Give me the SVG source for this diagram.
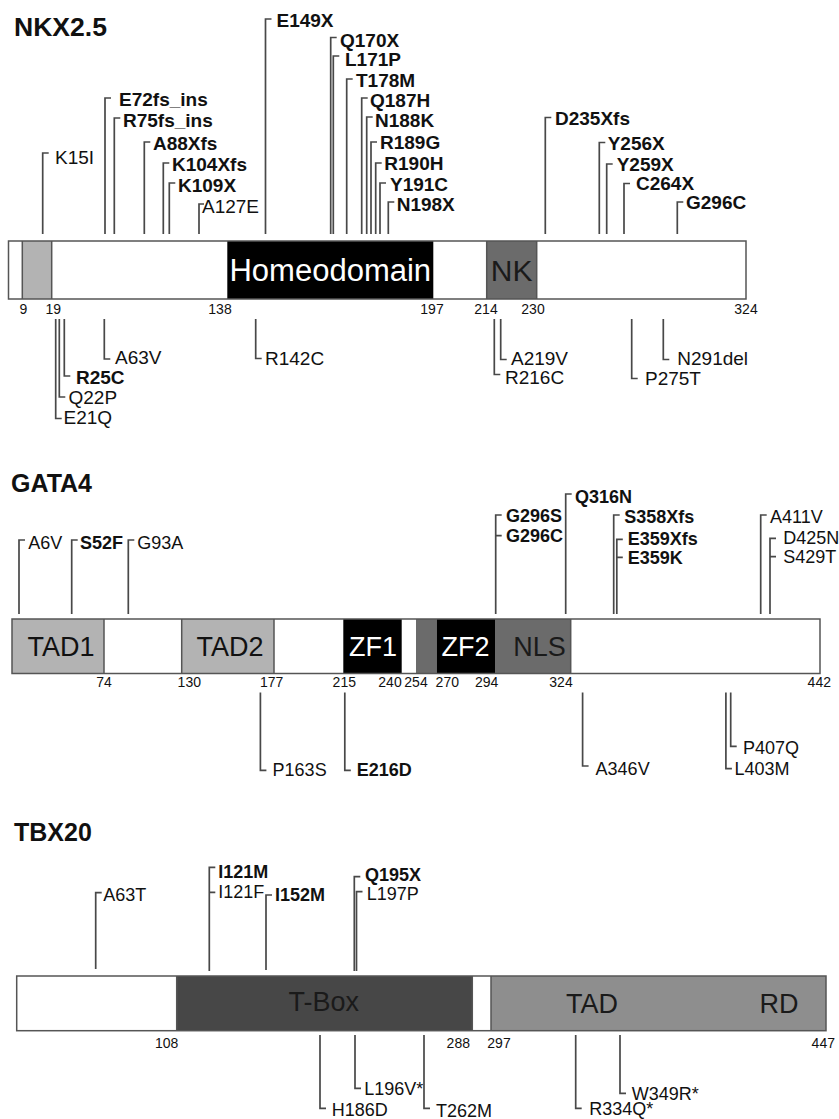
<svg xmlns="http://www.w3.org/2000/svg" width="839" height="1119" viewBox="0 0 839 1119">
<style>
.bg{fill:#fff}
.bar{stroke:#555;stroke-width:1.5}
.wh{fill:#fff}
.lg{fill:#b3b3b3}
.mg{fill:#6b6b6b}
.dg{fill:#474747}
.tg{fill:#8e8e8e}
.bk{fill:#000}
.ld{fill:none;stroke:#484848;stroke-width:1.7}
.t{font-family:"Liberation Sans",Arial,sans-serif;fill:#111}
.ti{font-size:25px;font-weight:bold}
.lb{font-size:19px}
.lb2{font-size:18px}
.b{font-weight:bold}
.n{font-size:14px;text-anchor:middle}
.dm{font-size:27px;text-anchor:middle}
.dw{fill:#fff}
</style>
<rect class="bg" x="0" y="0" width="839" height="1119"/>

<!-- ================= NKX2.5 ================= -->
<g id="nkx25">
  <text class="t ti" x="14" y="36" textLength="93" lengthAdjust="spacingAndGlyphs">NKX2.5</text>
  <g id="nkx25-bar">
    <rect class="wh" x="8.5" y="241" width="737.5" height="58"/>
    <rect class="lg" x="22.3" y="241" width="29.4" height="58"/>
    <rect class="bk" x="227.3" y="241" width="206" height="58"/>
    <rect class="mg" x="486.7" y="241" width="50" height="58"/>
    <rect class="bar" fill="none" x="8.5" y="241" width="737.5" height="58"/>
    <path class="bar" fill="none" d="M22.3,241V299M51.7,241V299M486.7,241V299M536.7,241V299"/>
    <text class="t dm dw" style="font-size:31px" x="330.3" y="281">Homeodomain</text>
    <text class="t dm" style="font-size:30px;fill:#1a1a1a" x="511.7" y="281">NK</text>
  </g>
  <g id="nkx25-numbers" class="t n">
    <text x="23.3" y="314">9</text>
    <text x="53.3" y="314">19</text>
    <text x="220" y="314">138</text>
    <text x="432" y="314">197</text>
    <text x="486" y="314">214</text>
    <text x="533" y="314">230</text>
    <text x="746" y="314">324</text>
  </g>
  <g id="nkx25-labels" class="t lb">
    <text x="55" y="164">K15I</text>
    <text class="b" x="119" y="106">E72fs_ins</text>
    <text class="b" x="123" y="127">R75fs_ins</text>
    <text class="b" x="153" y="149.5">A88Xfs</text>
    <text class="b" x="172" y="171">K104Xfs</text>
    <text class="b" x="178" y="191.5">K109X</text>
    <text x="202" y="213">A127E</text>
    <text class="b" x="276.5" y="26.5">E149X</text>
    <text class="b" x="340" y="46.5">Q170X</text>
    <text class="b" x="345" y="65.5">L171P</text>
    <text class="b" x="356" y="86.5">T178M</text>
    <text class="b" x="370" y="106.5">Q187H</text>
    <text class="b" x="375" y="127">N188K</text>
    <text class="b" x="380" y="149">R189G</text>
    <text class="b" x="384.3" y="170">R190H</text>
    <text class="b" x="390" y="191">Y191C</text>
    <text class="b" x="396.7" y="211">N198X</text>
    <text class="b" x="555" y="125">D235Xfs</text>
    <text class="b" x="607.7" y="149.5">Y256X</text>
    <text class="b" x="616.7" y="171">Y259X</text>
    <text class="b" x="636" y="190">C264X</text>
    <text class="b" x="686" y="208.5">G296C</text>
    <text x="63.5" y="423.5">E21Q</text>
    <text x="68.5" y="403.5">Q22P</text>
    <text class="b" x="76" y="383.5">R25C</text>
    <text x="115" y="364">A63V</text>
    <text x="265" y="365">R142C</text>
    <text x="505" y="384">R216C</text>
    <text x="511" y="365">A219V</text>
    <text x="645" y="385">P275T</text>
    <text x="677.3" y="365">N291del</text>
  </g>
</g>

<!-- ================= GATA4 ================= -->
<g id="gata4">
  <text class="t ti" x="11" y="492">GATA4</text>
  <g id="gata4-bar">
    <rect class="wh" x="12" y="619" width="808" height="54.5"/>
    <rect class="lg" x="12" y="619" width="92" height="54.5"/>
    <rect class="lg" x="181.7" y="619" width="92.3" height="54.5"/>
    <rect class="bk" x="343.3" y="619" width="58.4" height="54.5"/>
    <rect class="mg" x="416" y="619" width="20.7" height="54.5"/>
    <rect class="bk" x="436.7" y="619" width="58.3" height="54.5"/>
    <rect class="mg" x="495" y="619" width="75.7" height="54.5"/>
    <rect class="bar" fill="none" x="12" y="619" width="808" height="54.5"/>
    <path class="bar" fill="none" d="M104,619V673.5M181.7,619V673.5M274,619V673.5M570.7,619V673.5"/>
    <text class="t dm" x="61" y="656">TAD1</text>
    <text class="t dm" x="230" y="656">TAD2</text>
    <text class="t dm dw" x="373" y="656">ZF1</text>
    <text class="t dm dw" x="465.5" y="656">ZF2</text>
    <text class="t dm" style="fill:#1a1a1a" x="539.5" y="656">NLS</text>
  </g>
  <g id="gata4-numbers" class="t n">
    <text x="104" y="687">74</text>
    <text x="189.3" y="687">130</text>
    <text x="271.7" y="687">177</text>
    <text x="344.3" y="687">215</text>
    <text x="390" y="687">240</text>
    <text x="416" y="687">254</text>
    <text x="447.3" y="687">270</text>
    <text x="486.7" y="687">294</text>
    <text x="561" y="687">324</text>
    <text x="819.3" y="687">442</text>
  </g>
  <g id="gata4-labels" class="t lb2">
    <text x="28.3" y="548.5">A6V</text>
    <text class="b" x="80" y="548.5">S52F</text>
    <text x="137.3" y="548.5">G93A</text>
    <text class="b" x="506" y="522">G296S</text>
    <text class="b" x="506" y="542">G296C</text>
    <text class="b" x="575" y="503">Q316N</text>
    <text class="b" x="624.3" y="522.5">S358Xfs</text>
    <text class="b" x="627.7" y="545">E359Xfs</text>
    <text class="b" x="627.7" y="564">E359K</text>
    <text x="770" y="522.5">A411V</text>
    <text x="783.3" y="543.5">D425N</text>
    <text x="783.3" y="563">S429T</text>
    <text x="272.6" y="776">P163S</text>
    <text class="b" x="356.7" y="776">E216D</text>
    <text x="595.6" y="775">A346V</text>
    <text x="743" y="754">P407Q</text>
    <text x="734.4" y="775">L403M</text>
  </g>
</g>

<!-- ================= TBX20 ================= -->
<g id="tbx20">
  <text class="t ti" x="14" y="841">TBX20</text>
  <g id="tbx20-bar">
    <rect class="wh" x="16.7" y="976" width="809.3" height="54.7"/>
    <rect class="dg" x="176.7" y="976" width="295.6" height="54.7"/>
    <rect class="tg" x="491" y="976" width="335" height="54.7"/>
    <rect class="bar" fill="none" x="16.7" y="976" width="809.3" height="54.7"/>
    <path class="bar" fill="none" d="M176.7,976V1030.7M472.3,976V1030.7M491,976V1030.7"/>
    <text class="t dm" style="fill:#1a1a1a" x="323.7" y="1011">T-Box</text>
    <text class="t dm" style="fill:#1a1a1a" x="592" y="1013">TAD</text>
    <text class="t dm" style="fill:#1a1a1a" x="779" y="1013">RD</text>
  </g>
  <g id="tbx20-numbers" class="t n">
    <text x="166.7" y="1047.5">108</text>
    <text x="458.3" y="1047.5">288</text>
    <text x="499" y="1047.5">297</text>
    <text x="823.3" y="1047.5">447</text>
  </g>
  <g id="tbx20-labels" class="t lb2">
    <text x="103.3" y="901">A63T</text>
    <text class="b" x="218.3" y="877.5">I121M</text>
    <text x="218.3" y="897.5">I121F</text>
    <text class="b" x="275" y="901">I152M</text>
    <text class="b" x="365" y="881">Q195X</text>
    <text x="366.7" y="900">L197P</text>
    <text x="331.7" y="1116">H186D</text>
    <text x="364.3" y="1094.5">L196V*</text>
    <text x="436" y="1117">T262M</text>
    <text x="589.3" y="1115">R334Q*</text>
    <text x="631.7" y="1100">W349R*</text>
  </g>
</g>

<!-- ================= Connectors (leader lines) ================= -->
<g id="connectors" class="ld">
  <!-- NKX2.5 top -->
  <path d="M42.7,234V153h6"/>
  <path d="M105,234V98h6"/>
  <path d="M114.3,234V118h6"/>
  <path d="M144.3,234V142h6"/>
  <path d="M163.3,234V163h6"/>
  <path d="M169.3,234V183h6"/>
  <path d="M199,234V204h5"/>
  <path d="M265.5,234V19h6"/>
  <path d="M330.7,234V37.5h6"/>
  <path d="M333.3,234V56h6"/>
  <path d="M346.7,234V79h6"/>
  <path d="M361.7,234V98h6"/>
  <path d="M366.7,234V117h6"/>
  <path d="M371,234V142h6"/>
  <path d="M375.7,234V163h6"/>
  <path d="M380,234V183h6"/>
  <path d="M388.3,234V202h6"/>
  <path d="M545.3,234V117.5h6"/>
  <path d="M599.3,234V142.5h6"/>
  <path d="M606.7,234V164h6"/>
  <path d="M624,234V183.5h6"/>
  <path d="M677.3,234V202h6"/>
  <!-- NKX2.5 bottom -->
  <path d="M55.7,319V418.5h6"/>
  <path d="M59.3,319V397h6"/>
  <path d="M64.3,319V376h6"/>
  <path d="M104.3,319V359h6"/>
  <path d="M255.7,319V358.5h6"/>
  <path d="M494.3,319V374.5h6"/>
  <path d="M500.7,319V359.5h6"/>
  <path d="M631.7,319V378.5h6"/>
  <path d="M663.3,319V359.5h6"/>
  <!-- GATA4 top -->
  <path d="M19,614V540h6"/>
  <path d="M71.7,614V540h6"/>
  <path d="M128.3,614V540h6"/>
  <path d="M495.7,614V515h6M495.7,535.7h6"/>
  <path d="M565.7,614V494h6"/>
  <path d="M613.7,614V515h6"/>
  <path d="M616.8,614V539.3h6M616.8,557.3h6"/>
  <path d="M760.7,614V515h6"/>
  <path d="M770,614V538.3h6M770,556.7h6"/>
  <!-- GATA4 bottom -->
  <path d="M260.4,692.5V770.4h6"/>
  <path d="M344.8,692.5V770.4h6"/>
  <path d="M582.6,692.5V766h6"/>
  <path d="M725.9,692.5V768.6h6"/>
  <path d="M730.7,692.5V746.4h6"/>
  <!-- TBX20 top -->
  <path d="M95.7,969V892.7h6"/>
  <path d="M209.3,971V867.3h6M209.3,892.3h6"/>
  <path d="M266,970V895h6"/>
  <path d="M354.3,971V876.7h6"/>
  <path d="M356.5,971V891.7h6"/>
  <!-- TBX20 bottom -->
  <path d="M320,1035V1108.3h6"/>
  <path d="M355,1035V1088.3h6"/>
  <path d="M424,1035V1108.3h6"/>
  <path d="M575.7,1035V1108.3h6"/>
  <path d="M620,1035V1093.3h6"/>
</g>
</svg>
